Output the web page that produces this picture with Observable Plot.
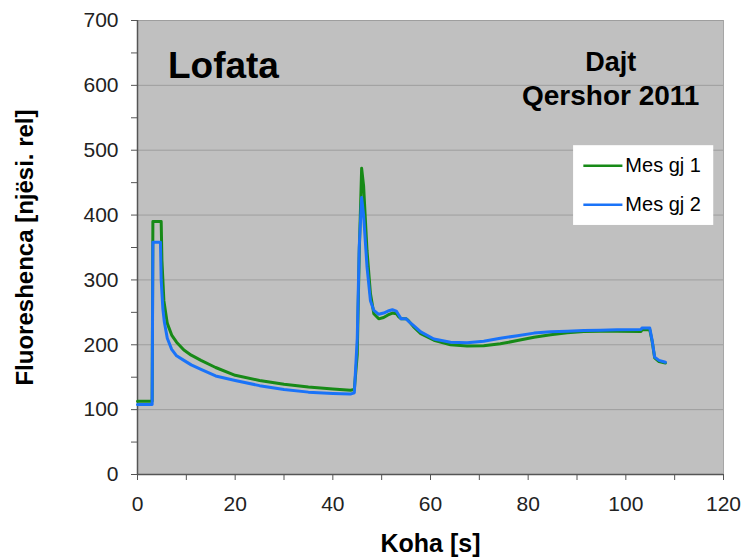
<!DOCTYPE html>
<html>
<head>
<meta charset="utf-8">
<script src="https://cdn.jsdelivr.net/npm/d3@7"></script>
<script src="https://cdn.jsdelivr.net/npm/@observablehq/plot@0.6"></script>
<style>
  html, body { margin: 0; padding: 0; background: white; }
  #chart { width: 744px; height: 560px; }
</style>
</head>
<body>
<div id="chart"></div>
<script>
// Series 1: "Mes gj 1" (green)
const time1 = [0, 3.0, 3.15, 4.85, 5.0, 5.4, 6.1, 7, 8, 9.5, 11, 13, 16, 20, 25, 30, 35, 40, 43.6, 44.4, 45.0, 45.4, 45.9, 46.3, 47.0, 47.7, 48.4, 49.4, 50.4, 51.3, 52.2, 53.0, 53.5, 54.0, 55.0, 55.4, 56.5, 58, 60.7, 64.1, 67.5, 70.9, 74.3, 77.8, 81.2, 84.6, 88, 91.4, 94.8, 98.2, 103.1, 103.3, 104.9, 105.4, 105.9, 106.8, 108.1];
const flu1  = [113, 113, 390, 390, 330, 268, 233, 215, 204, 192, 184, 176, 165, 153, 145, 139, 135, 132, 130, 131, 185, 340, 472, 445, 345, 279, 248, 240, 242, 246, 249, 248, 243, 240, 240, 238, 228, 217, 207, 200, 198, 198.5, 201.5, 206.5, 211.5, 215.5, 218.5, 220.5, 221, 221, 220.5, 223, 223, 205, 180, 174, 172];
// Series 2: "Mes gj 2" (blue)
const time2 = [0, 3.0, 3.15, 4.7, 4.85, 5.2, 5.5, 6.1, 7, 8, 9.5, 11, 13, 16, 20, 25, 30, 35, 40, 43.6, 44.4, 45.0, 45.4, 45.9, 46.3, 47.0, 47.7, 48.4, 49.4, 50.4, 51.3, 52.2, 53.0, 53.5, 54.0, 55.0, 55.4, 56.5, 58, 60.7, 64.1, 67.5, 70.9, 74.3, 77.8, 81.2, 84.6, 88, 91.4, 94.8, 98.2, 103.1, 103.3, 104.9, 105.4, 105.9, 106.8, 108.1];
const flu2  = [108, 108, 358, 358, 300, 255, 235, 210, 193, 183, 176, 169, 162, 152, 145, 137, 131, 127, 125, 124, 126, 210, 350, 427, 400, 320, 268, 253, 247, 249, 252, 254, 252, 246, 240, 240, 237, 230, 220, 209, 204, 203, 205.5, 210, 214, 218, 220, 221, 222, 222.5, 223, 223.5, 226, 226, 206, 181, 176, 173];

const seriesNames = ["Mes gj 1", "Mes gj 2"];
const seriesColors = ["#178a17", "#1a73f8"];

const xTicks = [0, 10, 20, 30, 40, 50, 60, 70, 80, 90, 100, 110, 120];
const yTicks = [0, 50, 100, 150, 200, 250, 300, 350, 400, 450, 500, 550, 600, 650, 700];
const yGrid = [100, 200, 300, 400, 500, 600, 700];

const titleText = "Lofata";
const placeText = ["Dajt", "Qershor 2011"];
const xLabel = "Koha [s]";
const yLabel = "Fluoreshenca [njësi. rel]";

const s1 = time1.map((t, i) => ({t, v: flu1[i]}));
const s2 = time2.map((t, i) => ({t, v: flu2[i]}));

const legendRows = seriesNames.map((name, i) => ({name, color: seriesColors[i], y: i === 0 ? 476 : 416}));

const chart = Plot.plot({
  width: 744,
  height: 560,
  marginLeft: 137,
  marginRight: 21,
  marginTop: 20,
  marginBottom: 86,
  style: {fontFamily: "'Liberation Sans', Arial, sans-serif", background: "white", color: "#222"},
  x: {domain: [0, 120]},
  y: {domain: [0, 700]},
  marks: [
    Plot.frame({fill: "#c0c0c0", stroke: "#a6a6a6"}),
    Plot.gridY(yGrid, {stroke: "#9e9e9e", strokeOpacity: 1, strokeWidth: 1}),
    Plot.axisY(yTicks, {tickSize: 6, tickPadding: 13, fontSize: 21, stroke: "#555", fill: "#222",
      tickFormat: d => (d % 100 === 0 ? String(d) : ""), label: null}),
    Plot.axisX(xTicks, {tickSize: 6, tickPadding: 16, fontSize: 21, stroke: "#555", fill: "#222",
      tickFormat: d => (d % 20 === 0 ? String(d) : ""), label: null}),
    Plot.ruleX([0], {stroke: "#555", strokeWidth: 1.5}),
    Plot.ruleY([0], {stroke: "#555", strokeWidth: 1.5}),
    Plot.line(s1, {x: "t", y: "v", stroke: seriesColors[0], strokeWidth: 3, strokeLinejoin: "round"}),
    Plot.line(s2, {x: "t", y: "v", stroke: seriesColors[1], strokeWidth: 3, strokeLinejoin: "round"}),
    // Title texts inside plot
    Plot.text([titleText], {x: () => 17.6, y: () => 630, text: d => d, fontSize: 37, fontWeight: "bold", fill: "#000"}),
    Plot.text([placeText[0]], {x: () => 96.9, y: () => 635, text: d => d, fontSize: 27, fontWeight: "bold", fill: "#000"}),
    Plot.text([placeText[1]], {x: () => 96.9, y: () => 584, text: d => d, fontSize: 28, fontWeight: "bold", fill: "#000"}),
    // Legend
    Plot.rect([0], {x1: () => 89.3, x2: () => 118, y1: () => 384, y2: () => 507, fill: "white"}),
    Plot.link(legendRows, {x1: () => 91.3, x2: () => 99.3, y1: "y", y2: "y", stroke: d => d.color, strokeWidth: 2.5}),
    Plot.text(legendRows, {x: () => 99.9, y: "y", text: "name", textAnchor: "start", fontSize: 20, fill: "#000"}),
    // Axis labels
    Plot.text([yLabel], {frameAnchor: "left", dx: -112, rotate: -90, textAnchor: "middle", lineAnchor: "middle", text: d => d, fontSize: 24, fontWeight: "bold", fill: "#000"}),
    Plot.text([xLabel], {frameAnchor: "bottom", dy: 69, textAnchor: "middle", lineAnchor: "middle", text: d => d, fontSize: 25, fontWeight: "bold", fill: "#000"})
  ]
});
document.getElementById("chart").appendChild(chart);
</script>
</body>
</html>
